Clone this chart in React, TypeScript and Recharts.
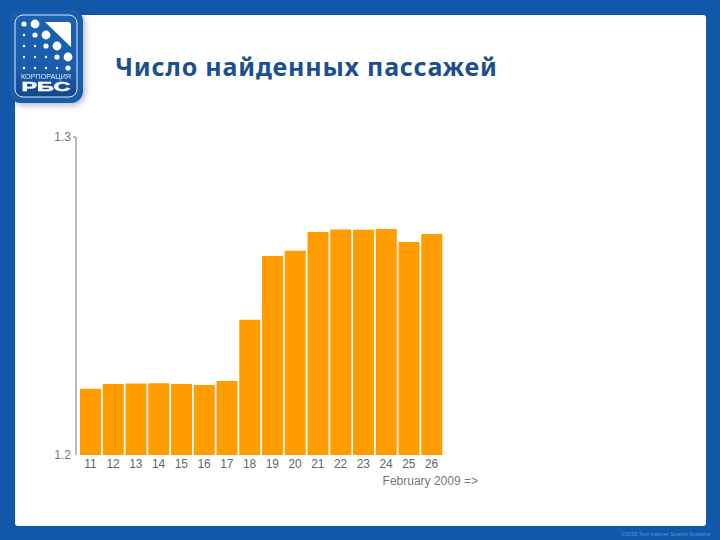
import React from 'react';
import { BarChart, Bar, XAxis, YAxis, Label } from 'recharts';

const days = ['11', '12', '13', '14', '15', '16', '17', '18', '19', '20', '21', '22', '23', '24', '25', '26'];
const passages = [1.2208, 1.2223, 1.2225, 1.2226, 1.2223, 1.222, 1.2233, 1.2425, 1.2626, 1.2642, 1.2701, 1.2709, 1.2708, 1.2711, 1.267, 1.2695];
const yTicks = [1.2, 1.3];

const chartData = days.map((day, i) => ({ day, value: passages[i] }));

const axisFont = '"Liberation Sans", Arial, sans-serif';

// dots of the company logo, row by row: [x, y, r]
const logoDots = [
  [24, 24, 2.6], [35, 24, 4.4],
  [24, 35, 1.2], [35, 35, 2.6], [46, 35, 4.4],
  [24, 46, 1.2], [35, 46, 1.2], [46, 46, 2.6], [57, 46, 4.4],
  [24, 57, 1.2], [35, 57, 1.2], [46, 57, 1.2], [57, 57, 2.6], [68, 57, 4.4],
  [24, 68, 1.2], [35, 68, 1.2], [46, 68, 1.2], [57, 68, 1.2], [68, 68, 2.6],
];

const Logo: React.FC = () => (
  <svg width={96} height={116} style={{ position: 'absolute', left: 0, top: 0, filter: 'drop-shadow(2px 2px 3px rgba(10,50,100,0.35))' }}>
    <defs>
      <linearGradient id="logoFill" x1="0" y1="0" x2="0" y2="1">
        <stop offset="0" stopColor="#1c60b0" />
        <stop offset="0.65" stopColor="#1a5dac" />
        <stop offset="1" stopColor="#12468c" />
      </linearGradient>
    </defs>
    <rect x={9} y={9} width={74} height={94} rx={12} fill="#1a5cab" />
    <rect x={15} y={15} width={62} height={82} rx={8} fill="url(#logoFill)" stroke="#dfe9f5" strokeWidth={1} />
    <path d="M45 22 L68 22 Q71 22 71 25 L71 47 Z" fill="#ffffff" />
    {logoDots.map(([x, y, r], i) => (
      <circle key={i} cx={x} cy={y} r={r} fill="#ffffff" />
    ))}
    <text x={46} y={79} textAnchor="middle" fontFamily={axisFont} fontSize={6.5} fill="#dfe9f5" textLength={50} lengthAdjust="spacingAndGlyphs">
      КОРПОРАЦИЯ
    </text>
    <text x={46} y={91} textAnchor="middle" fontFamily={axisFont} fontSize={12.5} fontWeight={900} fill="#ffffff" stroke="#ffffff" strokeWidth={0.5} textLength={49} lengthAdjust="spacingAndGlyphs">
      РБС
    </text>
  </svg>
);

// only the top tick has a small mark next to the axis
const renderYTick = (props: any) => {
  const { x, y, payload } = props;
  return (
    <g>
      {payload.value === 1.3 && <line x1={x + 2} x2={x + 5} y1={y} y2={y} stroke="#777777" />}
      <text x={x} y={y} dy={4} textAnchor="end" fill="#777777" fontSize={12} fontFamily={axisFont}>
        {payload.value.toFixed(1)}
      </text>
    </g>
  );
};

const App: React.FC = () => (
  <div style={{ position: 'absolute', left: 0, top: 0, width: 720, height: 540, background: '#1159a8', overflow: 'hidden' }}>
    <div style={{ position: 'absolute', left: 15, top: 15, width: 691, height: 511, background: '#ffffff', borderRadius: 3 }} />
    <Logo />
    <div
      style={{
        position: 'absolute',
        left: 115,
        top: 49,
        fontFamily: '"Noto Sans", sans-serif',
        fontWeight: 700,
        fontSize: 25,
        letterSpacing: 0.8,
        color: '#1d4f8f',
        whiteSpace: 'nowrap',
      }}
    >
      Число найденных пассажей
    </div>
    <div style={{ position: 'absolute', left: 621, top: 531, fontFamily: axisFont, fontSize: 5.5, color: '#5a94d2', whiteSpace: 'nowrap' }}>
      ©2009 Text Indexer Search Systems
    </div>
    <div style={{ position: 'absolute', left: 0, top: 0 }}>
      <BarChart
        width={720}
        height={540}
        data={chartData}
        margin={{ top: 137, right: 277, bottom: 55, left: 36 }}
        barCategoryGap={1}
      >
        <XAxis
          dataKey="day"
          axisLine={false}
          tickLine={false}
          interval={0}
          padding={{ left: 3, right: 0 }}
          height={30}
          tickMargin={-2}
          tick={{ fill: '#666666', fontSize: 12, fontFamily: axisFont }}
        >
          <Label
            value="February 2009 =>"
            position="insideBottomRight"
            offset={0}
            dx={35}
            dy={0}
            style={{ fill: '#777777', fontSize: 12, fontFamily: axisFont }}
          />
        </XAxis>
        <YAxis
          type="number"
          domain={[1.2, 1.3]}
          ticks={yTicks}
          width={40}
          allowDataOverflow
          tickSize={3}
          tickMargin={2}
          axisLine={{ stroke: '#777777' }}
          tickLine={false}
          tick={renderYTick}
        />
        <Bar dataKey="value" fill="#ff9c00" isAnimationActive={false} />
      </BarChart>
    </div>
  </div>
);

export default App;
